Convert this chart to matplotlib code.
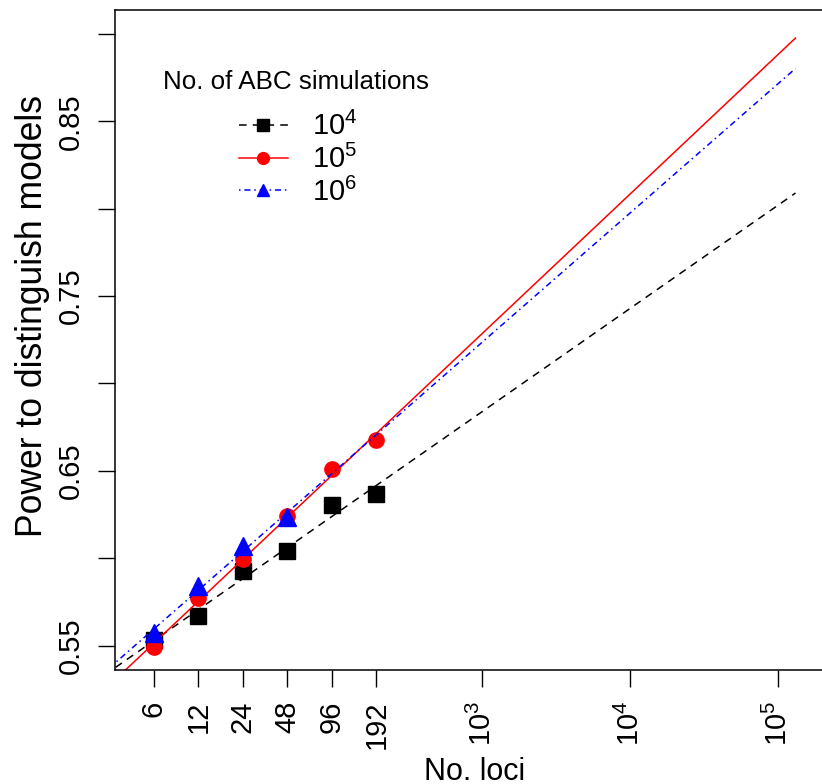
import numpy as np
import matplotlib
matplotlib.use("Agg")
import matplotlib.pyplot as plt
from matplotlib.lines import Line2D

plt.rcParams['font.family'] = ['Liberation Sans', 'DejaVu Sans']
plt.rcParams['mathtext.fontset'] = 'custom'
plt.rcParams['mathtext.rm'] = 'Liberation Sans'

# data
loci = [6, 12, 24, 48, 96, 192]
loci_1e6 = [6, 12, 24, 48]
power_1e4 = [0.553, 0.5667, 0.5925, 0.604, 0.6305, 0.6368]
power_1e5 = [0.549, 0.577, 0.5995, 0.6243, 0.651, 0.6678]
power_1e6 = [0.557, 0.584, 0.607, 0.6235]
x_end = 131072
xtick_pos = [6, 12, 24, 48, 96, 192, 1e3, 1e4, 1e5]
xtick_lab = ['6', '12', '24', '48', '96', '192',
             r'$\mathregular{10^3}$', r'$\mathregular{10^4}$', r'$\mathregular{10^5}$']
yticks = [0.55, 0.60, 0.65, 0.70, 0.75, 0.80, 0.85, 0.90]
ylabels = ['0.55', '', '0.65', '', '0.75', '', '0.85', '']
leg_labels = [r'$\mathregular{10^4}$', r'$\mathregular{10^5}$', r'$\mathregular{10^6}$']

fig = plt.figure(figsize=(8.22, 7.84), dpi=100)
ax = fig.add_axes([115/822, 114/784, 707/822, 660/784])
ax.set_xscale('log')
xlim = (3.27, 1.98e5)
ax.set_xlim(*xlim)
ax.set_ylim(0.536, 0.9137)

series = [
    (loci, power_1e4, 'black', 's', (0, (5, 4)), 12),
    (loci, power_1e5, 'red', 'o', '-', 11),
    (loci_1e6, power_1e6, 'blue', '^', (0, (1, 2.5, 4, 2.5)), 13),
]
handles = []
for xs, ys, col, mk, ls, ms in series:
    lx = np.log10(xs)
    b, a = np.polyfit(lx, ys, 1)
    xx = np.array([xlim[0] * 0.5, x_end])
    ax.plot(xx, a + b * np.log10(xx), color=col, linestyle=ls, lw=1.1)
    ax.plot(xs, ys, linestyle='none', marker=mk, color=col, markersize=ms)
    handles.append(Line2D([], [], color=col, linestyle=ls, lw=1.1,
                          marker=mk, markersize=8.5))

ax.set_xticks(xtick_pos)
ax.set_xticklabels(xtick_lab, rotation=90, fontsize=21)
ax.xaxis.set_minor_locator(matplotlib.ticker.NullLocator())
ax.set_yticks(yticks)
ax.set_yticklabels(ylabels, rotation=90, va='center', fontsize=21)
ax.tick_params(axis='both', length=12, width=1, pad=10)
for s in ['left', 'bottom', 'top']:
    ax.spines[s].set_linewidth(1.1)
ax.spines['right'].set_visible(False)

fig.text(475/822, 1 - 772/784, 'No. loci', ha='center', va='center', fontsize=22)
fig.text(33/822, 1 - 316/784, 'Power to distinguish models', ha='center',
         va='center', rotation=90, fontsize=25.6)

fig.text(163/822, 1 - 82/784, 'No. of ABC simulations', ha='left', va='center',
         fontsize=18.7)
ax.legend(handles, leg_labels,
          loc='upper left', bbox_to_anchor=(239/822, 1 - 112/784),
          bbox_transform=fig.transFigure, frameon=False, fontsize=21,
          handlelength=1.67, handletextpad=0.83, labelspacing=0.12,
          borderpad=0, borderaxespad=0)

fig.savefig('out.png', dpi=100)
